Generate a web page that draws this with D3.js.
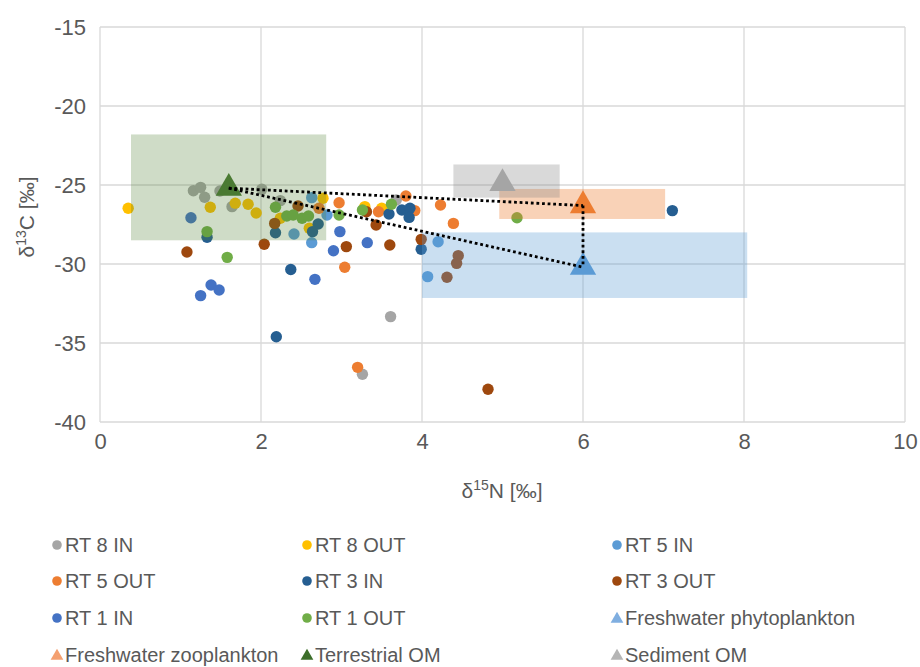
<!DOCTYPE html>
<html><head><meta charset="utf-8">
<script src="https://cdn.jsdelivr.net/npm/d3@7"></script>
<style>body{margin:0;background:#fff;} text{font-family:"Liberation Sans",Arial,sans-serif;}</style>
</head><body><svg id="chart" width="920" height="667"></svg>
<script>
// ---- data ----
const xTicks = [0, 2, 4, 6, 8, 10];
const yTicks = [-15, -20, -25, -30, -35, -40];

const rt8In = [[1.16,-25.36],[1.25,-25.15],[1.30,-25.78],[1.49,-25.38],[1.64,-26.37],[2.01,-25.27],[2.24,-25.99],[3.68,-25.95],[3.61,-33.33],[3.26,-36.98]];
const rt8Out = [[0.35,-26.47],[1.37,-26.41],[1.68,-26.15],[1.84,-26.22],[1.94,-26.77],[2.24,-27.1],[2.60,-27.74],[2.77,-25.84],[3.29,-26.37],[3.5,-26.47]];
const rt5In = [[2.41,-28.1],[2.63,-25.8],[2.82,-26.9],[2.63,-28.65],[4.2,-28.59],[4.07,-30.8]];
const rt5Out = [[2.72,-26.47],[2.97,-26.12],[3.46,-26.69],[3.80,-25.7],[3.91,-26.62],[4.23,-26.27],[4.39,-27.43],[3.04,-30.21],[3.2,-36.54]];
const rt3In = [[1.33,-28.31],[2.18,-28.02],[2.71,-27.47],[2.64,-27.95],[3.59,-26.84],[3.75,-26.58],[3.85,-26.47],[3.84,-27.05],[3.99,-29.07],[2.37,-30.35],[2.19,-34.6],[7.11,-26.62]];
const rt3Out = [[1.08,-29.24],[2.17,-27.43],[2.04,-28.75],[2.46,-26.33],[3.31,-26.69],[3.43,-27.53],[3.06,-28.9],[3.60,-28.8],[3.99,-28.44],[4.45,-29.47],[4.43,-29.96],[4.31,-30.84],[4.82,-37.93]];
const rt1In = [[1.13,-27.07],[1.38,-31.33],[1.48,-31.65],[1.25,-32.0],[2.98,-27.95],[2.90,-29.16],[3.32,-28.65],[2.67,-30.97]];
const rt1Out = [[1.33,-27.95],[1.58,-29.58],[2.18,-26.41],[2.32,-26.96],[2.40,-26.9],[2.51,-27.1],[2.59,-26.96],[2.97,-26.9],[3.26,-26.58],[3.62,-26.22],[5.18,-27.07]];

// end-members: name, mean x/y, x-range, y-range
const sourceNames = ["Freshwater phytoplankton","Freshwater zooplankton","Terrestrial OM","Sediment OM"];
const sourceMeans = [[6.0,-30.2],[6.0,-26.3],[1.6,-25.2],[5.0,-24.9]];
const sourceXRange = [[4.0,8.04],[4.96,7.02],[0.385,2.81],[4.39,5.71]];
const sourceYRange = [[-28.0,-32.15],[-25.25,-27.15],[-21.8,-28.5],[-23.7,-25.8]];
const mixingLines = [[2,1],[2,0],[1,0]];

const pointSeries = [
  {name:"RT 8 IN", data: rt8In, color:"#A5A5A5"},
  {name:"RT 8 OUT", data: rt8Out, color:"#FFC000"},
  {name:"RT 5 IN", data: rt5In, color:"#5B9BD5"},
  {name:"RT 5 OUT", data: rt5Out, color:"#ED7D31"},
  {name:"RT 3 IN", data: rt3In, color:"#255E91"},
  {name:"RT 3 OUT", data: rt3Out, color:"#9E480E"},
  {name:"RT 1 IN", data: rt1In, color:"#4472C4"},
  {name:"RT 1 OUT", data: rt1Out, color:"#70AD47"}
];
const sourceColors = ["#5B9BD5","#ED7D31","#4A7A32","#A5A5A5"];
const sourceLegendColors = ["#7FAEE0","#F4A070","#3C6E2A","#B5B5B5"];
const boxColors = ["#5B9BD5","#ED7D31","#548235","#808080"];
const boxOpacity = [0.32,0.35,0.28,0.3];

// ---- chart ----
const svg = d3.select("#chart");
const x = d3.scaleLinear().domain([0,10]).range([100,905]);
const y = d3.scaleLinear().domain([-40,-15]).range([422,27]);
const grid = "#D9D9D9", txt = "#595959";

// gridlines
svg.append("g").selectAll("line").data(yTicks).join("line")
  .attr("x1", x(0)).attr("x2", x(10)).attr("y1", d=>y(d)).attr("y2", d=>y(d))
  .attr("stroke", grid).attr("stroke-width",1.3);
svg.append("g").selectAll("line").data(xTicks).join("line")
  .attr("x1", d=>x(d)).attr("x2", d=>x(d)).attr("y1", y(-15)).attr("y2", y(-40))
  .attr("stroke", grid).attr("stroke-width",1.3);

// axes (labels only)
const yAxis = d3.axisLeft(y).tickValues(yTicks).tickSize(0).tickPadding(14).tickFormat(d=>String(d));
const gy = svg.append("g").attr("transform",`translate(${x(0)},0)`).call(yAxis);
const xAxis = d3.axisBottom(x).tickValues(xTicks).tickSize(0).tickPadding(11).tickFormat(d=>String(d));
const gx = svg.append("g").attr("transform",`translate(0,${y(-40)})`).call(xAxis);
[gy,gx].forEach(g=>{
  g.select(".domain").remove();
  g.selectAll("text").attr("fill",txt).attr("font-size",22).attr("font-family","'Liberation Sans',Arial,sans-serif");
});

// points
pointSeries.forEach(s=>{
  svg.append("g").selectAll("circle").data(s.data).join("circle")
    .attr("cx", d=>x(d[0])).attr("cy", d=>y(d[1])).attr("r",5.7).attr("fill", s.color);
});

// source boxes
svg.append("g").selectAll("rect").data(sourceNames).join("rect")
  .attr("x",(d,i)=>x(sourceXRange[i][0]))
  .attr("width",(d,i)=>x(sourceXRange[i][1])-x(sourceXRange[i][0]))
  .attr("y",(d,i)=>y(sourceYRange[i][0]))
  .attr("height",(d,i)=>y(sourceYRange[i][1])-y(sourceYRange[i][0]))
  .attr("fill",(d,i)=>boxColors[i]).attr("fill-opacity",(d,i)=>boxOpacity[i]);

// triangles
const tri = d3.symbol().type(d3.symbolTriangle).size(300);
svg.append("g").selectAll("path").data(sourceNames).join("path")
  .attr("d", tri)
  .attr("transform",(d,i)=>`translate(${x(sourceMeans[i][0])},${y(sourceMeans[i][1])})`)
  .attr("fill",(d,i)=>sourceColors[i]);

// mixing lines
svg.append("g").selectAll("line").data(mixingLines).join("line")
  .attr("x1",d=>x(sourceMeans[d[0]][0])).attr("y1",d=>y(sourceMeans[d[0]][1]))
  .attr("x2",d=>x(sourceMeans[d[1]][0])).attr("y2",d=>y(sourceMeans[d[1]][1]))
  .attr("stroke","#000").attr("stroke-width",2.8).attr("stroke-dasharray","2.8,2.8");

// axis titles
const xt = svg.append("text").attr("x",502).attr("y",498).attr("text-anchor","middle")
  .attr("fill",txt).attr("font-size",21);
xt.append("tspan").text("δ");
xt.append("tspan").text("15").attr("font-size",14).attr("dy",-8);
xt.append("tspan").text("N [‰]").attr("dy",8);

const yt = svg.append("text").attr("transform","translate(34,217) rotate(-90)").attr("text-anchor","middle")
  .attr("fill",txt).attr("font-size",21);
yt.append("tspan").text("δ");
yt.append("tspan").text("13").attr("font-size",14).attr("dy",-8);
yt.append("tspan").text("C [‰]").attr("dy",8);

// legend
const legendItems = pointSeries.map(s=>({name:s.name,color:s.color,shape:"circle"}))
  .concat(sourceNames.map((n,i)=>({name:n,color:sourceLegendColors[i],shape:"triangle"})));
const colX = [57, 307, 617];
const rowY = [545, 581, 618, 655];
const lg = svg.append("g");
legendItems.forEach((it,idx)=>{
  const cx = colX[idx%3], cy = rowY[Math.floor(idx/3)];
  if(it.shape==="circle"){
    lg.append("circle").attr("cx",cx).attr("cy",cy).attr("r",4.8).attr("fill",it.color);
  } else {
    lg.append("path").attr("d",d3.symbol().type(d3.symbolTriangle).size(70)())
      .attr("transform",`translate(${cx},${cy+1})`).attr("fill",it.color);
  }
  lg.append("text").attr("x",cx+8).attr("y",cy).attr("dy","0.36em")
    .attr("fill",txt).attr("font-size",20).text(it.name);
});
</script></body></html>
